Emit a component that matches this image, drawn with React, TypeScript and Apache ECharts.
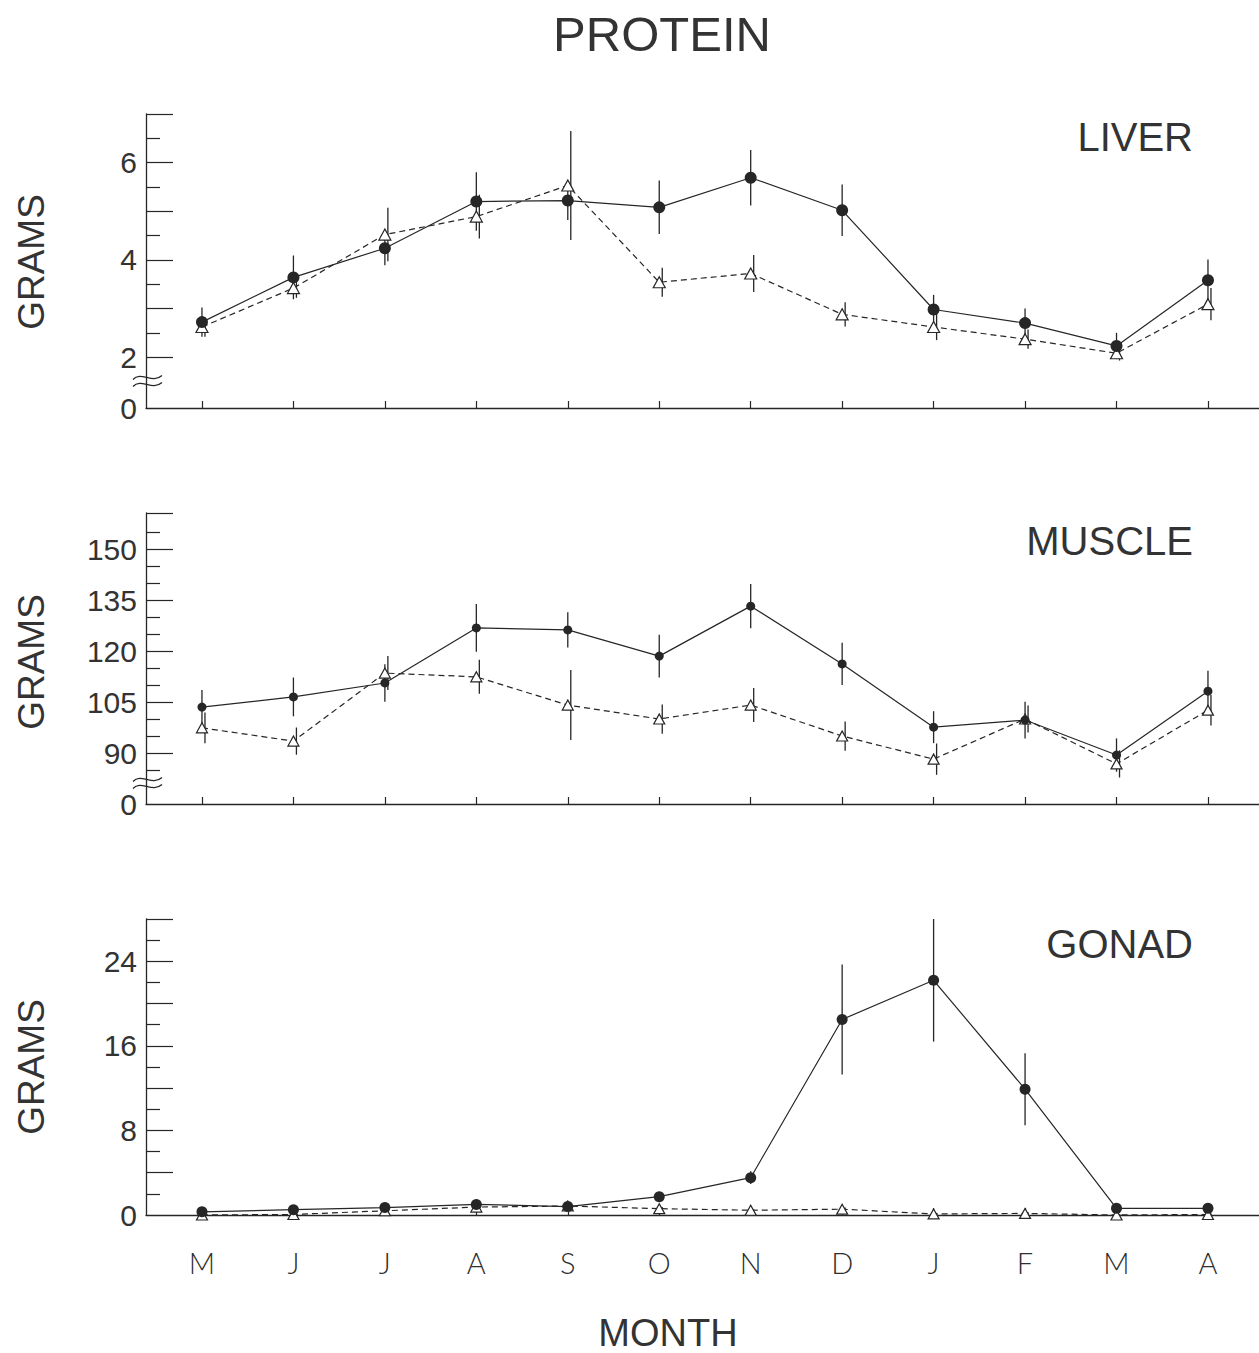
import React, { useEffect, useRef } from "react";
import * as echarts from "echarts";

const months = ["M", "J", "J", "A", "S", "O", "N", "D", "J", "F", "M", "A"];

const liverFilled = [2.72, 3.64, 4.24, 5.2, 5.22, 5.08, 5.69, 5.02, 2.98, 2.7, 2.23, 3.58];
const liverFilledErr = [0.3, 0.45, 0.35, 0.6, 0.4, 0.55, 0.57, 0.53, 0.3, 0.3, 0.27, 0.43];
const liverOpen = [2.62, 3.42, 4.52, 4.89, 5.53, 3.54, 3.72, 2.88, 2.62, 2.37, 2.08, 3.09];
const liverOpenErr = [0.2, 0.2, 0.55, 0.45, 1.12, 0.3, 0.38, 0.25, 0.27, 0.2, 0.15, 0.33];

const muscleFilled = [103.5, 106.5, 110.6, 126.8, 126.2, 118.5, 133.2, 116.2, 97.6, 99.7, 89.4, 108.2];
const muscleFilledErr = [5, 5.7, 5.5, 7, 5.2, 6.3, 6.5, 6.2, 4.7, 5.4, 4.9, 6];
const muscleOpen = [97.4, 93.5, 113.5, 112.4, 104.1, 100, 104.1, 95, 88.2, 100, 86.8, 102.6];
const muscleOpenErr = [4.5, 4, 5, 5, 10.3, 4.3, 5, 4.3, 4.6, 4, 4, 4.5];

const gonadFilled = [0.3, 0.5, 0.7, 1.0, 0.8, 1.73, 3.53, 18.5, 22.2, 11.9, 0.63, 0.63];
const gonadFilledErr = [0.2, 0.2, 0.3, 0.3, 0.3, 0.3, 0.6, 5.2, 5.8, 3.4, 0.2, 0.2];
const gonadOpen = [0.0, 0.05, 0.4, 0.75, 0.85, 0.6, 0.45, 0.55, 0.1, 0.15, 0.0, 0.05];
const gonadOpenErr = [0.1, 0.1, 0.15, 0.15, 0.15, 0.15, 0.1, 0.15, 0.1, 0.1, 0.1, 0.1];

const liverMajorTicks = [2, 3, 4, 5, 6, 7];
const liverMinorTicks = [2.5, 3.5, 4.5, 5.5, 6.5];
const liverLabels = [0.954, 2, 4, 6];

const muscleMajorTicks = [90, 105, 120, 135, 150, 160.6];
const muscleMinorTicks = [85, 95, 100, 110, 115, 125, 130, 140, 145, 155];
const muscleLabels = [75, 90, 105, 120, 135, 150];

const gonadMajorTicks = [4, 8, 12, 16, 20, 24, 28];
const gonadMinorTicks = [2, 6, 10, 14, 18, 22, 26];
const gonadLabels = [0, 8, 16, 24];

const INK = "#262626";
const TXT = "#333333";
const NARROW = "'Liberation Sans Narrow', 'Liberation Sans', Arial, sans-serif";
const SANS = "'Liberation Sans', Arial, Helvetica, sans-serif";

type Panel = {
  title: string;
  top: number;
  height: number;
  min: number;
  max: number;
  major: number[];
  minor: number[];
  labels: number[];
  filled: number[];
  filledErr: number[];
  open: number[];
  openErr: number[];
  dot: number;
  tri: number;
  titleY: number;
  gramsY: number;
  brk: number | null;
};

const panels: Panel[] = [
  {
    title: "LIVER", top: 114, height: 294, min: 0.954, max: 7,
    major: liverMajorTicks, minor: liverMinorTicks, labels: liverLabels,
    filled: liverFilled, filledErr: liverFilledErr, open: liverOpen, openErr: liverOpenErr,
    dot: 12, tri: 12, titleY: 137, gramsY: 262, brk: 381,
  },
  {
    title: "MUSCLE", top: 513, height: 291, min: 75, max: 160.6,
    major: muscleMajorTicks, minor: muscleMinorTicks, labels: muscleLabels,
    filled: muscleFilled, filledErr: muscleFilledErr, open: muscleOpen, openErr: muscleOpenErr,
    dot: 9, tri: 11, titleY: 541, gramsY: 662, brk: 783,
  },
  {
    title: "GONAD", top: 919, height: 296, min: 0, max: 28,
    major: gonadMajorTicks, minor: gonadMinorTicks, labels: gonadLabels,
    filled: gonadFilled, filledErr: gonadFilledErr, open: gonadOpen, openErr: gonadOpenErr,
    dot: 11, tri: 11, titleY: 944, gramsY: 1067, brk: null,
  },
];

const idx = months.map((_, i) => i);

function errSeries(vals: number[], errs: number[], gi: number, dx: number) {
  return {
    type: "custom",
    xAxisIndex: gi,
    yAxisIndex: gi * 2,
    z: 1,
    silent: true,
    clip: true,
    data: vals.map((v, i) => [i, v, errs[i]]),
    renderItem: (params: any, api: any) => {
      const x = api.value(0);
      const y = api.value(1);
      const e = api.value(2);
      const a = api.coord([x, y + e]);
      const b = api.coord([x, y - e]);
      return {
        type: "line",
        shape: { x1: a[0] + dx, y1: a[1], x2: b[0] + dx, y2: b[1] },
        style: { stroke: INK, lineWidth: 1.3 },
      };
    },
  };
}

export default function App() {
  const ref = useRef<HTMLDivElement>(null);
  useEffect(() => {
    if (!ref.current) return;
    const chart = echarts.init(ref.current, undefined, { renderer: "svg" });

    const grids = panels.map((p) => ({ left: 146, top: p.top, width: 1113, height: p.height, containLabel: false }));

    const xAxes = panels.map((p, i) => ({
      gridIndex: i,
      type: "value",
      min: -0.612,
      max: 11.558,
      axisLine: { show: true, onZero: false, lineStyle: { color: INK, width: 1.3 } },
      axisTick: { show: true, inside: true, length: 7, customValues: idx, lineStyle: { color: INK, width: 1.2 } },
      axisLabel:
        i === 2
          ? {
              show: true,
              customValues: idx,
              formatter: (v: number) => months[Math.round(v)] ?? "",
              fontSize: 29,
              fontFamily: "Lato, 'Open Sans', sans-serif",
              fontWeight: 300,
              color: "#2e2e2e",
              margin: 33,
            }
          : { show: false },
      splitLine: { show: false },
    }));

    const yAxes: any[] = [];
    panels.forEach((p, i) => {
      yAxes.push({
        gridIndex: i,
        type: "value",
        position: "left",
        min: p.min,
        max: p.max,
        axisLine: { show: true, onZero: false, lineStyle: { color: INK, width: 1.3 } },
        axisTick: { show: true, inside: true, length: 27, customValues: p.major, lineStyle: { color: INK, width: 1.2 } },
        axisLabel: {
          show: true,
          customValues: p.labels,
          formatter: (v: number) => (Math.abs(v - p.min) < 1e-6 ? "0" : String(v)),
          fontSize: 30,
          fontFamily: NARROW,
          color: TXT,
          margin: 9,
        },
        splitLine: { show: false },
      });
      yAxes.push({
        gridIndex: i,
        type: "value",
        position: "left",
        offset: 0,
        min: p.min,
        max: p.max,
        axisLine: { show: false, onZero: false },
        axisTick: { show: true, inside: true, length: 14, customValues: p.minor, lineStyle: { color: INK, width: 1.2 } },
        axisLabel: { show: false },
        splitLine: { show: false },
      });
    });

    const series: any[] = [];
    panels.forEach((p, i) => {
      series.push(errSeries(p.filled, p.filledErr, i, 0));
      series.push(errSeries(p.open, p.openErr, i, 3));
      series.push({
        type: "line",
        xAxisIndex: i,
        yAxisIndex: i * 2,
        z: 3,
        data: p.open.map((v, k) => [k, v]),
        symbol: "triangle",
        symbolSize: [p.tri, p.tri - 1],
        showAllSymbol: true,
        lineStyle: { color: INK, width: 1.2, type: [6, 4] },
        itemStyle: { color: "#ffffff", borderColor: INK, borderWidth: 1.2 },
      });
      series.push({
        type: "line",
        xAxisIndex: i,
        yAxisIndex: i * 2,
        z: 4,
        data: p.filled.map((v, k) => [k, v]),
        symbol: "circle",
        symbolSize: p.dot,
        showAllSymbol: true,
        lineStyle: { color: INK, width: 1.2 },
        itemStyle: { color: INK, borderColor: INK, borderWidth: 0 },
      });
    });

    const graphics: any[] = [
      {
        type: "text",
        x: 662,
        y: 34,
        style: { text: "PROTEIN", fontSize: 49, fontFamily: SANS, fill: TXT, align: "center", verticalAlign: "middle" },
      },
      {
        type: "text",
        x: 668,
        y: 1333,
        style: { text: "MONTH", fontSize: 38, fontFamily: SANS, fill: TXT, align: "center", verticalAlign: "middle" },
      },
    ];
    panels.forEach((p) => {
      graphics.push({
        type: "text",
        x: 1193,
        y: p.titleY,
        style: { text: p.title, fontSize: 40, fontFamily: SANS, fill: TXT, align: "right", verticalAlign: "middle" },
      });
      graphics.push({
        type: "text",
        x: 31,
        y: p.gramsY,
        rotation: Math.PI / 2,
        style: { text: "GRAMS", fontSize: 37, fontFamily: SANS, fill: TXT, align: "center", verticalAlign: "middle" },
      });
      if (p.brk !== null) {
        [-3.5, 3.5].forEach((off) => {
          const yy = p.brk! + off;
          graphics.push({
            type: "bezierCurve",
            z: 10,
            shape: { x1: 133, y1: yy + 2, cpx1: 141, cpy1: yy - 7, cpx2: 152, cpy2: yy + 7, x2: 162, y2: yy - 2 },
            style: { stroke: INK, lineWidth: 1.3, fill: "none" },
          });
        });
      }
    });

    chart.setOption({
      animation: false,
      backgroundColor: "#ffffff",
      grid: grids,
      xAxis: xAxes,
      yAxis: yAxes,
      series,
      graphic: graphics,
    });
    return () => chart.dispose();
  }, []);
  return (
    <div
      ref={ref}
      style={{ position: "absolute", left: 0, top: 0, width: 1259, height: 1353, background: "#fff" }}
    />
  );
}
